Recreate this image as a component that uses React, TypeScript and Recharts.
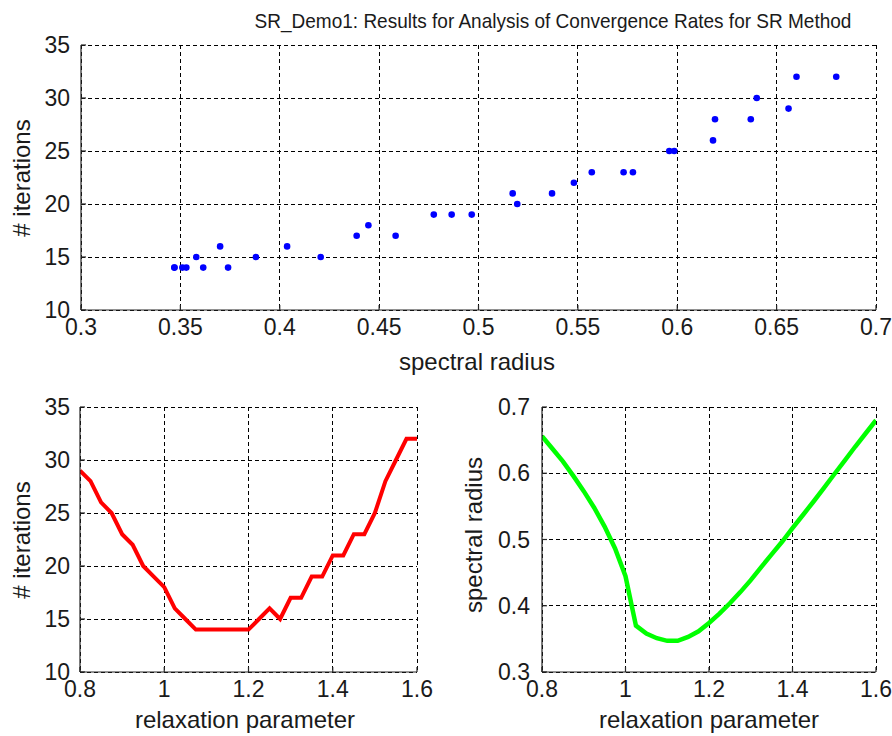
import React from 'react';
import {
  ScatterChart,
  Scatter,
  LineChart,
  Line,
  XAxis,
  YAxis,
  CartesianGrid,
} from 'recharts';

// relaxation parameter (omega) values
const omega = [
  0.8, 0.825, 0.85, 0.875, 0.9, 0.925, 0.95, 0.975, 1.0, 1.025, 1.05,
  1.075, 1.1, 1.125, 1.15, 1.175, 1.2, 1.225, 1.25, 1.275, 1.3, 1.325,
  1.35, 1.375, 1.4, 1.425, 1.45, 1.475, 1.5, 1.525, 1.55, 1.575, 1.6,
];

// number of iterations for each omega
const iterations = [
  29, 28, 26, 25, 23, 22, 20, 19, 18, 16, 15, 14, 14, 14, 14, 14, 14, 15,
  16, 15, 17, 17, 19, 19, 21, 21, 23, 23, 25, 28, 30, 32, 32,
];

// spectral radius for each omega
const spectralRadius = [
  0.656, 0.637, 0.618, 0.596, 0.573, 0.548, 0.5195, 0.4865, 0.4446, 0.37,
  0.358, 0.351, 0.347, 0.347, 0.353, 0.3615, 0.374, 0.388, 0.4037, 0.4206,
  0.4387, 0.4583, 0.4775, 0.4966, 0.5172, 0.537, 0.557, 0.5777, 0.5985,
  0.619, 0.64, 0.66, 0.68,
];

const srTicks = [0.3, 0.35, 0.4, 0.45, 0.5, 0.55, 0.6, 0.65, 0.7];
const iterTicks = [10, 15, 20, 25, 30, 35];
const omegaTicks = [0.8, 1, 1.2, 1.4, 1.6];
const srAxisTicks = [0.3, 0.4, 0.5, 0.6, 0.7];

const title = 'SR_Demo1:  Results for Analysis of Convergence Rates for SR Method';

const data = omega.map((w, i) => ({
  omega: w,
  iter: iterations[i],
  sr: spectralRadius[i],
}));

const FONT = '"Liberation Sans", Arial, Helvetica, sans-serif';
const TICK_STYLE = { fill: '#1a1a1a', fontSize: 23, fontFamily: FONT };
const AXIS_LINE = { stroke: '#262626', strokeWidth: 1.2 };
const TICK_LINE = { stroke: '#262626', strokeWidth: 1.2 };

const fmt = (v: number) => String(Math.round(v * 1000) / 1000);

const Dot = (props: any) => {
  const { cx, cy } = props;
  if (cx == null || cy == null) return <g />;
  return <circle cx={cx} cy={cy} r={3.3} fill="#0000ff" />;
};

const labelBase: React.CSSProperties = {
  position: 'absolute',
  whiteSpace: 'nowrap',
  fontFamily: FONT,
  fontSize: 24,
  lineHeight: 1,
  color: '#1a1a1a',
};

const HLabel = ({ x, y, text, size, sx }: { x: number; y: number; text: string; size?: number; sx?: number }) => (
  <div
    style={{
      ...labelBase,
      left: x,
      top: y,
      fontSize: size || 24,
      transform: `translate(-50%, -50%) scaleX(${sx || 1})`,
    }}
  >
    {text}
  </div>
);

const VLabel = ({ x, y, text }: { x: number; y: number; text: string }) => (
  <div style={{ ...labelBase, left: x, top: y, transform: 'translate(-50%, -50%) rotate(-90deg)' }}>
    {text}
  </div>
);

const GRID = { stroke: '#000', strokeDasharray: '4 3', shapeRendering: 'crispEdges' as any };

const frameAxes = (xDomain: number[], xTicks: number[], yDomain: number[], yTicks: number[]) => [
  <XAxis
    key="xt"
    xAxisId="top"
    orientation="top"
    type="number"
    domain={xDomain}
    ticks={xTicks}
    height={0}
    tick={false}
    tickSize={-5}
    axisLine={AXIS_LINE}
    tickLine={TICK_LINE}
    allowDataOverflow
  />,
  <YAxis
    key="yr"
    yAxisId="right"
    orientation="right"
    type="number"
    domain={yDomain}
    ticks={yTicks}
    width={0}
    tick={false}
    tickSize={-5}
    axisLine={AXIS_LINE}
    tickLine={TICK_LINE}
    allowDataOverflow
  />,
];

export default function App() {
  return (
    <div style={{ position: 'absolute', left: 0, top: 0, width: 892, height: 736, background: '#fff' }}>
      {/* Top scatter */}
      <div style={{ position: 'absolute', left: 0, top: 0 }}>
        <ScatterChart width={892} height={380} margin={{ top: 45, right: 16, bottom: 40, left: 21 }}>
          <CartesianGrid {...GRID} />
          <XAxis
            type="number"
            dataKey="sr"
            domain={[0.3, 0.7]}
            ticks={srTicks}
            tickFormatter={fmt}
            height={30}
            tickSize={-5}
            tickMargin={14}
            tick={TICK_STYLE}
            axisLine={AXIS_LINE}
            tickLine={TICK_LINE}
            allowDataOverflow
            interval={0}
          />
          <YAxis
            type="number"
            dataKey="iter"
            domain={[10, 35]}
            ticks={iterTicks}
            width={60}
            tickSize={-5}
            tickMargin={16}
            tick={TICK_STYLE}
            axisLine={AXIS_LINE}
            tickLine={TICK_LINE}
            allowDataOverflow
            interval={0}
          />
          {frameAxes([0.3, 0.7], srTicks, [10, 35], iterTicks)}
          <Scatter data={data} shape={<Dot />} isAnimationActive={false} />
        </ScatterChart>
      </div>

      {/* Bottom-left: iterations vs omega */}
      <div style={{ position: 'absolute', left: 0, top: 380 }}>
        <LineChart width={440} height={356} data={data} margin={{ top: 27, right: 23, bottom: 34, left: 20 }}>
          <CartesianGrid {...GRID} />
          <XAxis
            type="number"
            dataKey="omega"
            domain={[0.8, 1.6]}
            ticks={omegaTicks}
            tickFormatter={fmt}
            height={30}
            tickSize={-5}
            tickMargin={14}
            tick={TICK_STYLE}
            axisLine={AXIS_LINE}
            tickLine={TICK_LINE}
            allowDataOverflow
            interval={0}
          />
          <YAxis
            type="number"
            domain={[10, 35]}
            ticks={iterTicks}
            width={60}
            tickSize={-5}
            tickMargin={15}
            tick={TICK_STYLE}
            axisLine={AXIS_LINE}
            tickLine={TICK_LINE}
            allowDataOverflow
            interval={0}
          />
          {frameAxes([0.8, 1.6], omegaTicks, [10, 35], iterTicks)}
          <Line
            type="linear"
            dataKey="iter"
            stroke="#ff0000"
            strokeWidth={4}
            dot={false}
            isAnimationActive={false}
          />
        </LineChart>
      </div>

      {/* Bottom-right: spectral radius vs omega */}
      <div style={{ position: 'absolute', left: 460, top: 380 }}>
        <LineChart width={432} height={356} data={data} margin={{ top: 27, right: 16, bottom: 34, left: 22 }}>
          <CartesianGrid {...GRID} />
          <XAxis
            type="number"
            dataKey="omega"
            domain={[0.8, 1.6]}
            ticks={omegaTicks}
            tickFormatter={fmt}
            height={30}
            tickSize={-5}
            tickMargin={14}
            tick={TICK_STYLE}
            axisLine={AXIS_LINE}
            tickLine={TICK_LINE}
            allowDataOverflow
            interval={0}
          />
          <YAxis
            type="number"
            domain={[0.3, 0.7]}
            ticks={srAxisTicks}
            tickFormatter={fmt}
            width={60}
            tickSize={-5}
            tickMargin={17}
            tick={TICK_STYLE}
            axisLine={AXIS_LINE}
            tickLine={TICK_LINE}
            allowDataOverflow
            interval={0}
          />
          {frameAxes([0.8, 1.6], omegaTicks, [0.3, 0.7], srAxisTicks)}
          <Line
            type="linear"
            dataKey="sr"
            stroke="#00ff00"
            strokeWidth={4.5}
            dot={false}
            isAnimationActive={false}
          />
        </LineChart>
      </div>

      <HLabel x={553} y={20} text={title} size={21} sx={0.905} />
      <VLabel x={22} y={178} text="# iterations" />
      <HLabel x={477} y={362} text="spectral radius" />
      <VLabel x={22} y={540} text="# iterations" />
      <HLabel x={245} y={720} text="relaxation parameter" />
      <VLabel x={474} y={535} text="spectral radius" />
      <HLabel x={709} y={720} text="relaxation parameter" />
    </div>
  );
}
